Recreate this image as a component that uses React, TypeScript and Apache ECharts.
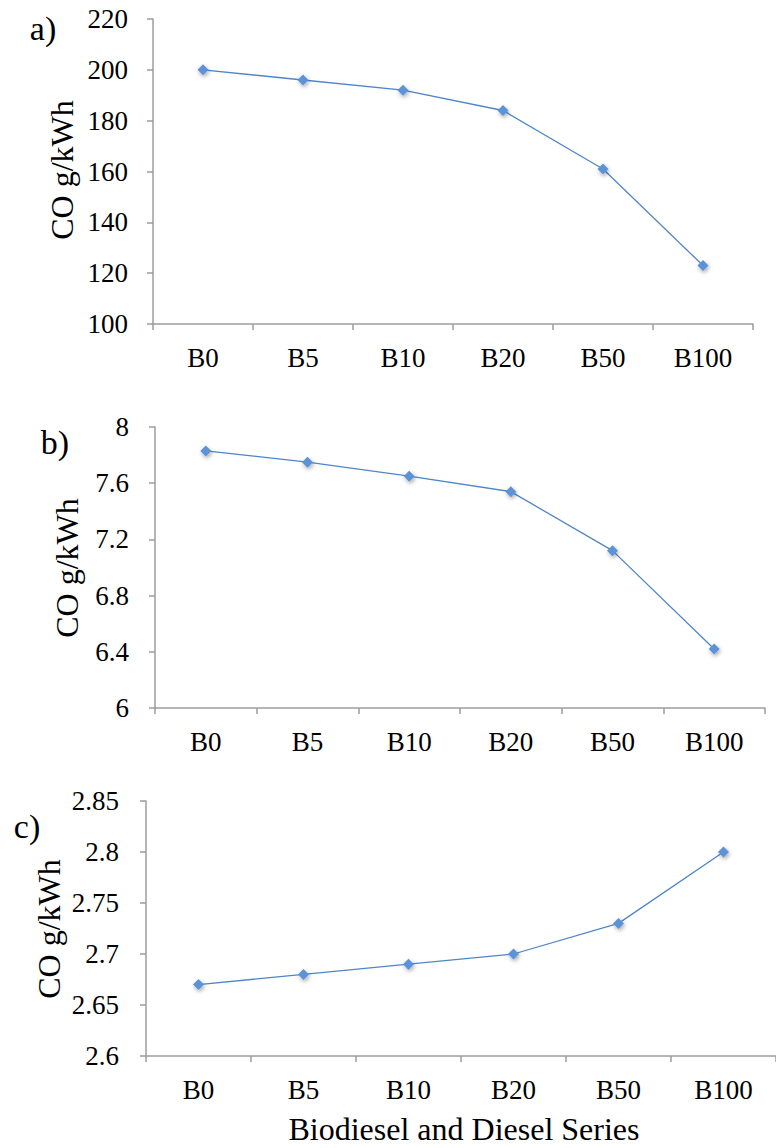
import React, { useEffect, useRef } from "react";
import * as echarts from "echarts";

const categories = ["B0", "B5", "B10", "B20", "B50", "B100"];
const seriesA = [200, 196, 192, 184, 161, 123];
const seriesB = [7.83, 7.75, 7.65, 7.54, 7.12, 6.42];
const seriesC = [2.67, 2.68, 2.69, 2.7, 2.73, 2.8];
const panelLabels = ["a)", "b)", "c)"];
const yAxisTitle = "CO g/kWh";
const xAxisTitle = "Biodiesel and Diesel Series";

const FONT = "Liberation Serif";
const AXIS_COLOR = "#9d9d9d";
const LINE_COLOR = "#4f86c6";
const MARKER_COLOR = "#5b93d6";

export default function App() {
  const ref = useRef<HTMLDivElement>(null);

  useEffect(() => {
    document.body.style.margin = "0";
    if (!ref.current) return;
    const chart = echarts.init(ref.current, undefined, { renderer: "svg" });

    const grids = [
      { left: 153, top: 19, width: 600, height: 305 },
      { left: 155, top: 427, width: 610, height: 281 },
      { left: 146, top: 801, width: 635, height: 255 },
    ];
    const yCfg = [
      { min: 100, max: 220, interval: 20, margin: 25, fmt: (v: number) => String(v) },
      { min: 6, max: 8, interval: 0.4, margin: 26, fmt: (v: number) => String(parseFloat(v.toFixed(1))) },
      { min: 2.6, max: 2.85, interval: 0.05, margin: 27, fmt: (v: number) => String(parseFloat(v.toFixed(2))) },
    ];
    const datas = [seriesA, seriesB, seriesC];

    const axisLine = { show: true, lineStyle: { color: AXIS_COLOR, width: 1.5 } };
    const axisTick = { show: true, length: 6, inside: false, lineStyle: { color: AXIS_COLOR, width: 1.5 } };

    const graphic: any[] = [];
    const labelPos = [
      { x: 43, y: 28 },
      { x: 55, y: 442 },
      { x: 27, y: 826 },
    ];
    const titlePos = [
      { x: 62, y: 170 },
      { x: 67, y: 568 },
      { x: 49, y: 929 },
    ];
    panelLabels.forEach((t, i) => {
      graphic.push({
        type: "text",
        x: labelPos[i].x,
        y: labelPos[i].y,
        style: { text: t, font: `34px ${FONT}`, fill: "#000", align: "center", verticalAlign: "middle" },
      });
      graphic.push({
        type: "text",
        x: titlePos[i].x,
        y: titlePos[i].y,
        rotation: Math.PI / 2,
        style: { text: yAxisTitle, font: `32px ${FONT}`, fill: "#000", align: "center", verticalAlign: "middle" },
      });
    });
    graphic.push({
      type: "text",
      x: 464,
      y: 1129,
      style: { text: xAxisTitle, font: `32px ${FONT}`, fill: "#000", align: "center", verticalAlign: "middle" },
    });

    chart.setOption({
      animation: false,
      backgroundColor: "#fff",
      grid: grids.map((g) => ({ ...g, containLabel: false })),
      xAxis: grids.map((_, i) => ({
        type: "category",
        gridIndex: i,
        data: categories,
        boundaryGap: true,
        axisLine,
        axisTick: { ...axisTick, alignWithLabel: false },
        axisLabel: { color: "#000", fontFamily: FONT, fontSize: 27, margin: 20 },
        splitLine: { show: false },
      })),
      yAxis: grids.map((_, i) => ({
        type: "value",
        gridIndex: i,
        min: yCfg[i].min,
        max: yCfg[i].max,
        interval: yCfg[i].interval,
        axisLine,
        axisTick,
        splitLine: { show: false },
        axisLabel: {
          color: "#000",
          fontFamily: FONT,
          fontSize: 27,
          margin: yCfg[i].margin,
          formatter: yCfg[i].fmt,
        },
      })),
      series: datas.map((d, i) => ({
        type: "line",
        xAxisIndex: i,
        yAxisIndex: i,
        data: d,
        symbol: "diamond",
        symbolSize: 11,
        showSymbol: true,
        lineStyle: { color: LINE_COLOR, width: 1.3 },
        itemStyle: {
          color: MARKER_COLOR,
          shadowBlur: 4,
          shadowColor: "rgba(0,0,0,0.35)",
          shadowOffsetX: 1,
          shadowOffsetY: 2,
        },
      })),
      graphic,
    });

    return () => chart.dispose();
  }, []);

  return <div ref={ref} style={{ width: 776, height: 1148 }} />;
}
